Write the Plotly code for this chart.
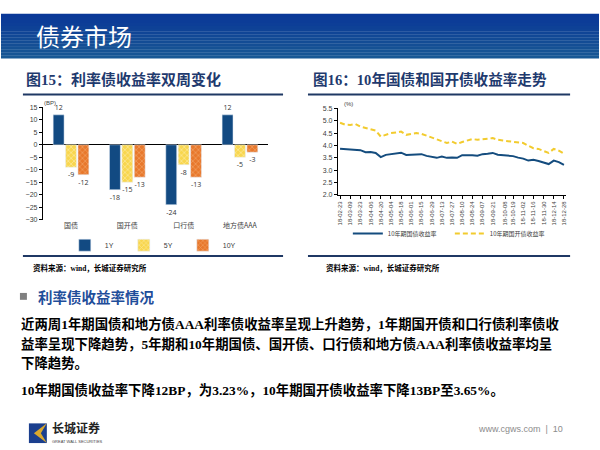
import re
import plotly.graph_objects as go
import pandas as pd

# ---------------- data ----------------
categories = ["国债", "国开债", "口行债", "地方债AAA"]
bp_1y = [12, -18, -24, 12]
bp_5y = [-9, -15, -8, -5]
bp_10y = [-12, -13, -13, -3]

dates = pd.date_range("2018-02-23", periods=45, freq="7D")
cgb_10y = [3.87, 3.86, 3.85, 3.83, 3.81, 3.73, 3.74, 3.70, 3.53, 3.62,
           3.66, 3.67, 3.71, 3.62, 3.63, 3.67, 3.65, 3.58, 3.54, 3.50,
           3.55, 3.50, 3.51, 3.50, 3.61, 3.62, 3.61, 3.59, 3.65, 3.67,
           3.70, 3.63, 3.61, 3.59, 3.57, 3.51, 3.47, 3.39, 3.42, 3.37,
           3.30, 3.25, 3.39, 3.33, 3.22]
cdb_10y = [4.92, 4.84, 4.83, 4.87, 4.76, 4.70, 4.63, 4.60, 4.36, 4.43,
           4.50, 4.52, 4.56, 4.43, 4.46, 4.50, 4.47, 4.39, 4.34, 4.23,
           4.16, 4.10, 4.16, 4.06, 4.14, 4.20, 4.26, 4.23, 4.24, 4.27,
           4.30, 4.23, 4.20, 4.18, 4.14, 4.12, 4.10, 3.99, 3.89, 3.86,
           3.79, 3.70, 3.86, 3.79, 3.67]
tick_labels = ["18-02-23", "18-03-09", "18-03-23", "18-04-06", "18-04-20",
               "18-05-04", "18-05-18", "18-06-01", "18-06-15", "18-06-29",
               "18-07-13", "18-07-27", "18-08-10", "18-08-24", "18-09-07",
               "18-09-21", "18-10-08", "18-10-19", "18-11-02", "18-11-16",
               "18-11-30", "18-12-14", "18-12-28"]
tick_vals = pd.to_datetime(["20" + t for t in tick_labels])

W, H = 600, 450
def px(x): return x / W
def py(y): return 1 - y / H

CJK = "Noto Sans CJK SC"
SERIF = "Liberation Serif"
NAVY = "#1F3864"

fig = go.Figure()

# ---------------- bar chart ----------------
fig.add_trace(go.Bar(x=categories, y=bp_1y, name="1Y", marker_color="#124A82",
                     text=bp_1y, textposition="outside", cliponaxis=False,
                     textfont=dict(size=7, color="#333"), legend="legend"))
fig.add_trace(go.Bar(x=categories, y=bp_5y, name="5Y",
                     marker=dict(color="#F8D64E",
                                 pattern=dict(shape="x", fgcolor="#FFF8D8", size=4, solidity=0.35)),
                     text=bp_5y, textposition="outside", cliponaxis=False,
                     textfont=dict(size=7, color="#333"), legend="legend"))
fig.add_trace(go.Bar(x=categories, y=bp_10y, name="10Y",
                     marker=dict(color="#E8782C",
                                 pattern=dict(shape="x", fgcolor="#F8C08F", size=4, solidity=0.35)),
                     text=bp_10y, textposition="outside", cliponaxis=False,
                     textfont=dict(size=7, color="#333"), legend="legend"))

# ---------------- line chart ----------------
fig.add_trace(go.Scatter(x=dates, y=cgb_10y, name="10年期国债收益率", mode="lines",
                         line=dict(color="#144C7E", width=2),
                         xaxis="x2", yaxis="y2", legend="legend2"))
fig.add_trace(go.Scatter(x=dates, y=cdb_10y, name="10年期国开债收益率", mode="lines",
                         line=dict(color="#F2CB2E", width=2, dash="5px,3px"),
                         xaxis="x2", yaxis="y2", legend="legend2"))

tickfont = dict(family="Liberation Sans", size=7, color="#404040")

fig.update_layout(
    width=W, height=H, margin=dict(l=0, r=0, t=0, b=0),
    paper_bgcolor="white", plot_bgcolor="white",
    barmode="group", bargap=0.34, bargroupgap=0.12,
    xaxis=dict(domain=[px(42), px(268)], showline=False, showgrid=False, ticks="",
               tickfont=dict(family=CJK, size=7, color="#404040"), fixedrange=True),
    yaxis=dict(domain=[py(219), py(105)], range=[-30, 15], dtick=5, showgrid=False,
               showline=True, linecolor="#000", linewidth=1, ticks="outside", ticklen=3,
               tickcolor="#000", tickfont=tickfont, zeroline=True, zerolinecolor="#000",
               zerolinewidth=1),
    xaxis2=dict(domain=[px(338), px(567)], anchor="y2", type="date",
                range=[pd.Timestamp("2018-02-20"), pd.Timestamp("2018-12-31")],
                tickvals=tick_vals, ticktext=tick_labels, tickangle=-90,
                showline=True, linecolor="#000", linewidth=1, ticks="outside", ticklen=3,
                tickcolor="#000", showgrid=False, tickfont=dict(family="Liberation Sans", size=6, color="#404040")),
    yaxis2=dict(domain=[py(194), py(106)], anchor="x2", range=[2.0, 5.5], dtick=0.5,
                tickformat=".1f", showgrid=False, showline=True, linecolor="#000",
                linewidth=1, ticks="outside", ticklen=3, tickcolor="#000", tickfont=tickfont,
                zeroline=False),
    legend=dict(orientation="h", x=px(64), y=py(245), xanchor="left", yanchor="middle",
                font=dict(family="Liberation Sans", size=7, color="#404040"),
                entrywidth=14, entrywidthmode="pixels", itemwidth=30, bgcolor="rgba(0,0,0,0)",
                traceorder="normal"),
    legend2=dict(orientation="h", x=px(348), y=py(233), xanchor="left", yanchor="middle",
                 font=dict(family=CJK, size=6, color="#404040"),
                 entrywidth=57, entrywidthmode="pixels", itemwidth=30, bgcolor="rgba(0,0,0,0)"),
    showlegend=True,
)

shapes = []
# header gradient
top, bot = 10, 55
n = 15
c0, c1 = (10, 56, 152), (24, 88, 148)
for i in range(n):
    t = i / (n - 1)
    col = "rgb(%d,%d,%d)" % tuple(int(c0[k] + (c1[k] - c0[k]) * t) for k in range(3))
    y0 = top + (bot - top) * i / n
    y1 = top + (bot - top) * (i + 1) / n
    shapes.append(dict(type="rect", xref="paper", yref="paper", x0=0, x1=1,
                       y0=py(y1 + 0.3), y1=py(y0), fillcolor=col, line_width=0, layer="below"))
# chart title underlines and bottom lines
for (xa, xb) in [(22, 283), (308, 571)]:
    for yy in (92, 256):
        shapes.append(dict(type="line", xref="paper", yref="paper", x0=px(xa), x1=px(xb),
                           y0=py(yy), y1=py(yy), line=dict(color=NAVY, width=2)))
# bullet square
shapes.append(dict(type="rect", xref="paper", yref="paper", x0=px(19), x1=px(26),
                   y0=py(300.5), y1=py(293.5), fillcolor="#808080", line_width=0))
# logo
shapes.append(dict(type="rect", xref="paper", yref="paper", x0=px(28), x1=px(46),
                   y0=py(446), y1=py(426), fillcolor="#1B3F8E", line_width=0))
shapes.append(dict(type="path", xref="paper", yref="paper",
                   path="M %f %f L %f %f L %f %f L %f %f Z" % (px(46), py(426), px(33), py(436),
                                                               px(46), py(446), px(40), py(436)),
                   fillcolor="#D9A82E", line_width=0))
fig.update_layout(shapes=shapes)


def mixed(text):
    # Latin letters / digits in a serif face, as on the slide
    return re.sub(r"([A-Za-z0-9.%]+)",
                  lambda m: '<span style="font-family:%s">%s</span>' % (SERIF, m.group(1)), text)


ann = []
def T(x, y, text, size, color="#000", family=CJK, xanchor="left", bold=False, serif_latin=False):
    if serif_latin:
        text = mixed(text)
    if bold:
        text = "<b>" + text + "</b>"
    ann.append(dict(xref="paper", yref="paper", x=px(x), y=py(y), text=text, showarrow=False,
                    xanchor=xanchor, yanchor="middle", font=dict(size=size, color=color, family=family)))

T(33, 32, "债券市场", 24, "white")
T(23, 76, "图15：利率债收益率双周变化", 15, "#1F3A6E", bold=True, serif_latin=True)
T(311, 76, "图16：10年国债和国开债收益率走势", 14.6, "#1F3A6E", bold=True, serif_latin=True)
T(41, 101, "(BP)", 6, "#404040", family="Liberation Sans")
T(342, 102, "(%)", 6, "#404040", family="Liberation Sans")
T(30, 268, "资料来源：wind，长城证券研究所", 7.5, "#000", bold=True, serif_latin=True)
T(324, 268, "资料来源：wind，长城证券研究所", 7.5, "#000", bold=True, serif_latin=True)
T(35, 297, "利率债收益率情况", 14.5, "#1F4E9A", bold=True)
BODY = 13.4
T(18, 324, "近两周1年期国债和地方债AAA利率债收益率呈现上升趋势，1年期国开债和口行债利率债收", BODY, bold=True, serif_latin=True)
T(18, 344, "益率呈现下降趋势，5年期和10年期国债、国开债、口行债和地方债AAA利率债收益率均呈", BODY, bold=True, serif_latin=True)
T(18, 364, "下降趋势。", BODY, bold=True)
T(18, 391, "10年期国债收益率下降12BP，为3.23%，10年期国开债收益率下降13BP至3.65%。", BODY, bold=True, serif_latin=True)
T(49, 430, "长城证券", 12, "#222", bold=True)
T(49, 444, "GREAT WALL SECURITIES", 4, "#444", family="Liberation Sans")
T(566, 432, "www.cgws.com  |  10", 9, "#8C8C8C", family="Liberation Sans", xanchor="right")
fig.update_layout(annotations=ann)

fig.write_html("out.html", config={"displayModeBar": False},
               post_script="document.body.style.margin='0';document.documentElement.style.overflow='hidden';")
